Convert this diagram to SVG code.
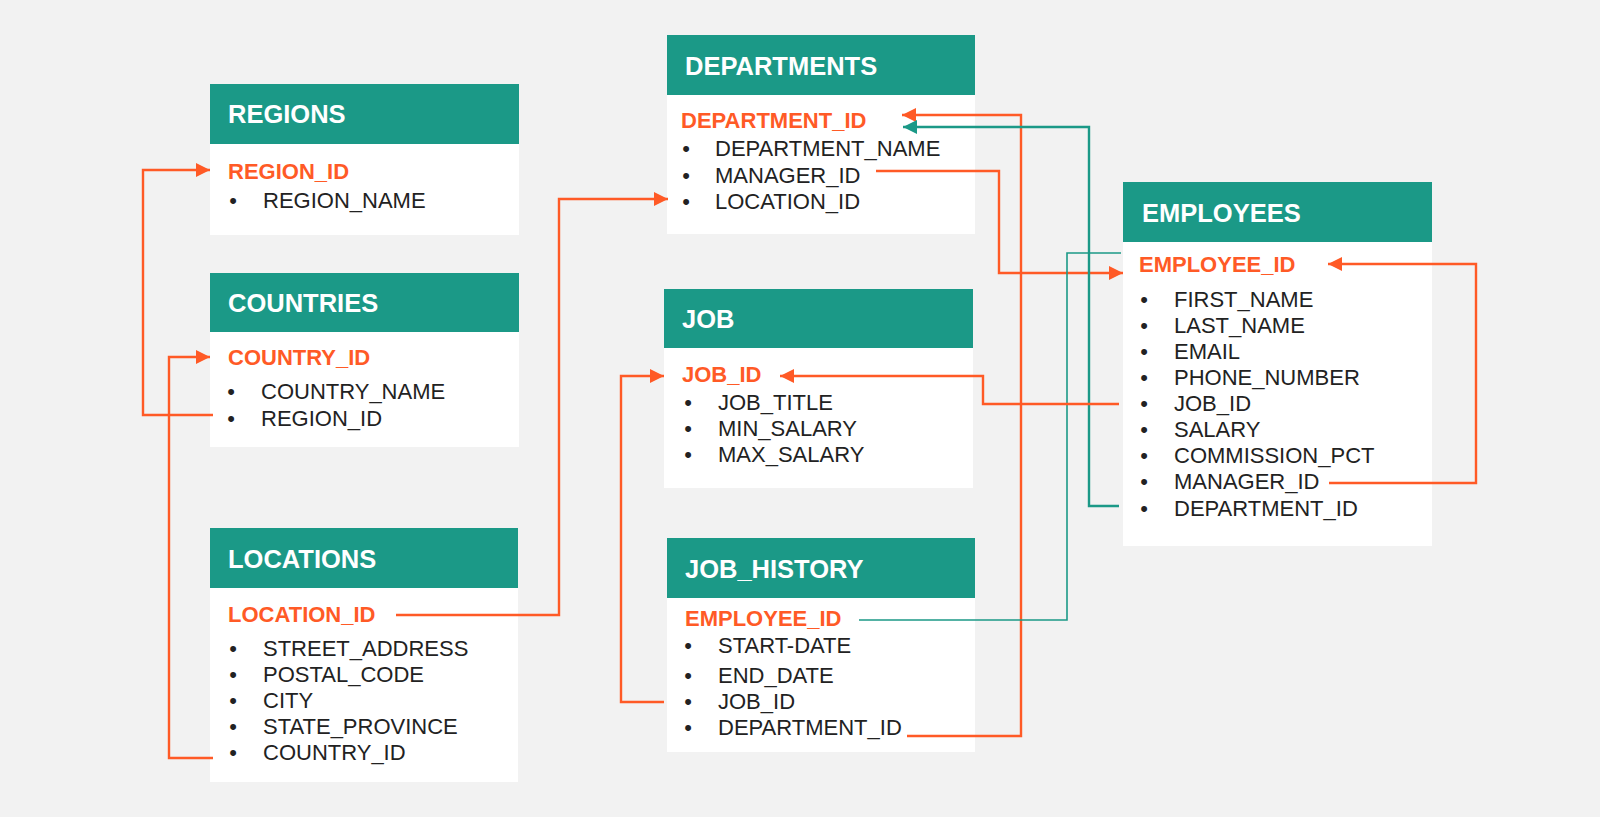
<svg xmlns="http://www.w3.org/2000/svg" width="1600" height="817" viewBox="0 0 1600 817">
<defs>
<style>
.hdr{fill:#1b9987}
.body{fill:#ffffff}
.ht{font-family:"Liberation Sans",Arial,sans-serif;font-weight:bold;font-size:25.5px;fill:#ffffff}
.key{font-family:"Liberation Sans",Arial,sans-serif;font-weight:bold;font-size:22px;fill:#ff5a26}
.fld{font-family:"Liberation Sans",Arial,sans-serif;font-size:22px;fill:#222222}
.bul{font-family:"Liberation Sans",Arial,sans-serif;font-size:22px;fill:#222222;text-anchor:middle}
.or{fill:none;stroke:#ff5a26;stroke-width:2.4}
.tl{fill:none;stroke:#1b9987;stroke-width:2.4}
.tln{fill:none;stroke:#1b9987;stroke-width:1.6}
</style>
<marker id="ao" markerUnits="userSpaceOnUse" markerWidth="14" markerHeight="14" refX="14" refY="7" orient="auto">
<path d="M0,0 L14,7 L0,14 z" fill="#ff5a26"/>
</marker>
<marker id="at" markerUnits="userSpaceOnUse" markerWidth="14" markerHeight="14" refX="14" refY="7" orient="auto">
<path d="M0,0 L14,7 L0,14 z" fill="#1b9987"/>
</marker>
</defs>
<rect x="0" y="0" width="1600" height="817" fill="#f2f2f2"/>

<g id="regions">
<rect class="body" x="210" y="84" width="309" height="151"/>
<rect class="hdr" x="210" y="84" width="309" height="60"/>
<text class="ht" x="228" y="123">REGIONS</text>
<text class="key" x="228" y="179">REGION_ID</text>
<text class="bul" x="233" y="208">•</text><text class="fld" x="263" y="208">REGION_NAME</text>
</g>

<g id="countries">
<rect class="body" x="210" y="273" width="309" height="174"/>
<rect class="hdr" x="210" y="273" width="309" height="59"/>
<text class="ht" x="228" y="312">COUNTRIES</text>
<text class="key" x="228" y="365">COUNTRY_ID</text>
<text class="bul" x="231" y="399">•</text><text class="fld" x="261" y="399">COUNTRY_NAME</text>
<text class="bul" x="231" y="426">•</text><text class="fld" x="261" y="426">REGION_ID</text>
</g>

<g id="locations">
<rect class="body" x="210" y="528" width="308" height="254"/>
<rect class="hdr" x="210" y="528" width="308" height="60"/>
<text class="ht" x="228" y="568">LOCATIONS</text>
<text class="key" x="228" y="622">LOCATION_ID</text>
<text class="bul" x="233" y="656">•</text><text class="fld" x="263" y="656">STREET_ADDRESS</text>
<text class="bul" x="233" y="682">•</text><text class="fld" x="263" y="682">POSTAL_CODE</text>
<text class="bul" x="233" y="708">•</text><text class="fld" x="263" y="708">CITY</text>
<text class="bul" x="233" y="734">•</text><text class="fld" x="263" y="734">STATE_PROVINCE</text>
<text class="bul" x="233" y="760">•</text><text class="fld" x="263" y="760">COUNTRY_ID</text>
</g>

<g id="departments">
<rect class="body" x="667" y="35" width="308" height="199"/>
<rect class="hdr" x="667" y="35" width="308" height="60"/>
<text class="ht" x="685" y="75">DEPARTMENTS</text>
<text class="key" x="681" y="128">DEPARTMENT_ID</text>
<text class="bul" x="686" y="156">•</text><text class="fld" x="715" y="156">DEPARTMENT_NAME</text>
<text class="bul" x="686" y="183">•</text><text class="fld" x="715" y="183">MANAGER_ID</text>
<text class="bul" x="686" y="209">•</text><text class="fld" x="715" y="209">LOCATION_ID</text>
</g>

<g id="job">
<rect class="body" x="664" y="289" width="309" height="199"/>
<rect class="hdr" x="664" y="289" width="309" height="59"/>
<text class="ht" x="682" y="328">JOB</text>
<text class="key" x="682" y="382">JOB_ID</text>
<text class="bul" x="688" y="410">•</text><text class="fld" x="718" y="410">JOB_TITLE</text>
<text class="bul" x="688" y="436">•</text><text class="fld" x="718" y="436">MIN_SALARY</text>
<text class="bul" x="688" y="462">•</text><text class="fld" x="718" y="462">MAX_SALARY</text>
</g>

<g id="job_history">
<rect class="body" x="667" y="538" width="308" height="214"/>
<rect class="hdr" x="667" y="538" width="308" height="60"/>
<text class="ht" x="685" y="578">JOB_HISTORY</text>
<text class="key" x="685" y="626">EMPLOYEE_ID</text>
<text class="bul" x="688" y="653">•</text><text class="fld" x="718" y="653">START-DATE</text>
<text class="bul" x="688" y="683">•</text><text class="fld" x="718" y="683">END_DATE</text>
<text class="bul" x="688" y="709">•</text><text class="fld" x="718" y="709">JOB_ID</text>
<text class="bul" x="688" y="735">•</text><text class="fld" x="718" y="735">DEPARTMENT_ID</text>
</g>

<g id="employees">
<rect class="body" x="1123" y="182" width="309" height="364"/>
<rect class="hdr" x="1123" y="182" width="309" height="60"/>
<text class="ht" x="1142" y="222">EMPLOYEES</text>
<text class="key" x="1139" y="272">EMPLOYEE_ID</text>
<text class="bul" x="1144" y="307">•</text><text class="fld" x="1174" y="307">FIRST_NAME</text>
<text class="bul" x="1144" y="333">•</text><text class="fld" x="1174" y="333">LAST_NAME</text>
<text class="bul" x="1144" y="359">•</text><text class="fld" x="1174" y="359">EMAIL</text>
<text class="bul" x="1144" y="385">•</text><text class="fld" x="1174" y="385">PHONE_NUMBER</text>
<text class="bul" x="1144" y="411">•</text><text class="fld" x="1174" y="411">JOB_ID</text>
<text class="bul" x="1144" y="437">•</text><text class="fld" x="1174" y="437">SALARY</text>
<text class="bul" x="1144" y="463">•</text><text class="fld" x="1174" y="463">COMMISSION_PCT</text>
<text class="bul" x="1144" y="489">•</text><text class="fld" x="1174" y="489">MANAGER_ID</text>
<text class="bul" x="1144" y="516">•</text><text class="fld" x="1174" y="516">DEPARTMENT_ID</text>
</g>

<g id="connectors">
<path class="or" d="M213,415 H143 V170 H210" marker-end="url(#ao)"/>
<path class="or" d="M213,758 H169 V357 H210" marker-end="url(#ao)"/>
<path class="or" d="M396,615 H559 V199 H668" marker-end="url(#ao)"/>
<path class="or" d="M876,171 H999 V273 H1123" marker-end="url(#ao)"/>
<path class="or" d="M907,736 H1021 V115 H902" marker-end="url(#ao)"/>
<path class="tl" d="M1119,506 H1089 V127 H903" marker-end="url(#at)"/>
<path class="tln" d="M859,620 H1067 V253 H1121"/>
<path class="or" d="M1119,404 H983 V376 H780" marker-end="url(#ao)"/>
<path class="or" d="M664,702 H621 V376 H664" marker-end="url(#ao)"/>
<path class="or" d="M1329,483 H1476 V264 H1328" marker-end="url(#ao)"/>
</g>
</svg>
